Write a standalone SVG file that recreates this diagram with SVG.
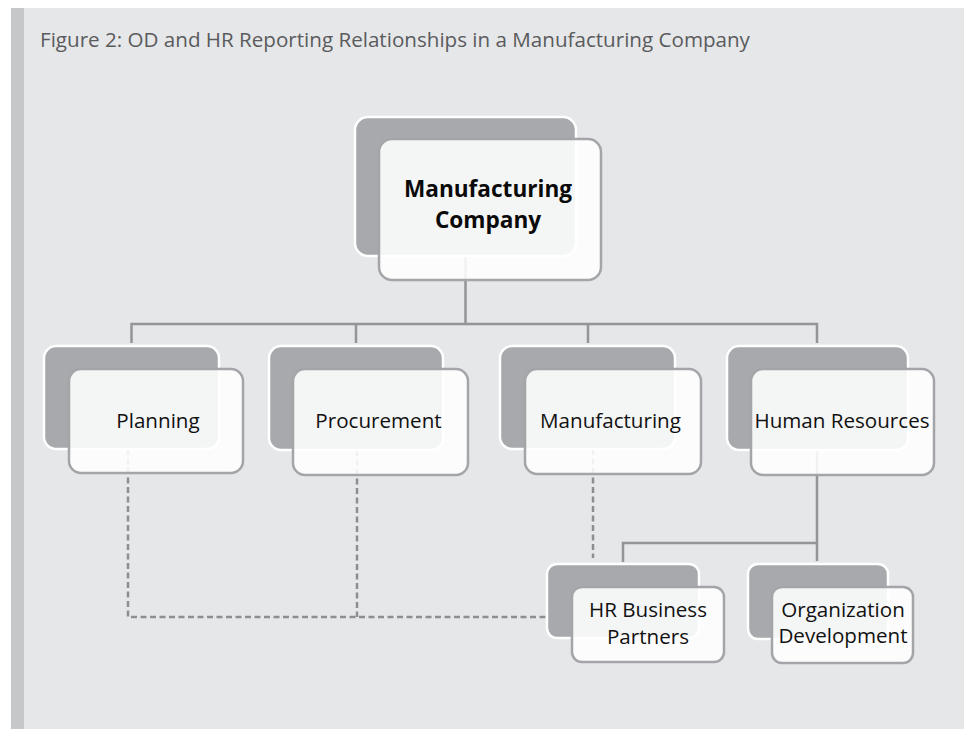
<svg xmlns="http://www.w3.org/2000/svg" width="964" height="729" viewBox="0 0 964 729">
<style>
.back{fill:#a7a9ac;stroke:#ffffff;stroke-width:2.5}
.front{fill:#ffffff;fill-opacity:0.88;stroke:#a3a5a8;stroke-width:2.5}
.solid{fill:none;stroke:#939598;stroke-width:2.5}
.dash{fill:none;stroke:#8c8e91;stroke-width:2.5;stroke-dasharray:6 3.5}
.lbl{font-family:"Open Sans","Noto Sans","DejaVu Sans",sans-serif;font-size:20.6px;fill:#111111;text-anchor:middle}
.big{font-family:"Open Sans","Noto Sans","DejaVu Sans",sans-serif;font-size:22.6px;font-weight:bold;fill:#0a0a0a;text-anchor:middle}
.title{font-family:"Open Sans","Noto Sans","DejaVu Sans",sans-serif;font-size:20.6px;fill:#5a5b5d}
</style>
<rect x="0" y="0" width="964" height="729" fill="#ffffff"/>
<rect x="11" y="8" width="953" height="721" fill="#e6e7e9"/>
<rect x="11" y="8" width="13" height="721" fill="#c6c7c9"/>
<text class="title" x="40" y="47">Figure 2: OD and HR Reporting Relationships in a Manufacturing Company</text>

<g id="connectors">
<path class="solid" d="M465.5 256 V324 M131.5 343 V324 H817 V343 M356 324 V343 M588 324 V343"/>
<path class="solid" d="M817 450 V561 M817 543 H623 V562"/>
<path class="dash" d="M128 449 V617 H547 M357 450 V617 M593 449 V558"/>
</g>

<g id="node-manufacturing-company">
<rect class="back" x="355" y="117" width="221" height="139" rx="13"/>
<rect class="front" x="379" y="139" width="222" height="141" rx="13"/>
<text class="big" x="488" y="197">Manufacturing</text>
<text class="big" x="488" y="228">Company</text>
</g>

<g id="node-planning">
<rect class="back" x="44" y="346" width="175" height="103" rx="12"/>
<rect class="front" x="69" y="369" width="174" height="104" rx="12"/>
<text class="lbl" x="158" y="428">Planning</text>
</g>

<g id="node-procurement">
<rect class="back" x="269" y="346" width="174" height="104" rx="12"/>
<rect class="front" x="293" y="369" width="175" height="106" rx="12"/>
<text class="lbl" x="378.5" y="428">Procurement</text>
</g>

<g id="node-manufacturing">
<rect class="back" x="500" y="346" width="175" height="103" rx="12"/>
<rect class="front" x="525" y="369" width="176" height="105" rx="12"/>
<text class="lbl" x="610.5" y="428">Manufacturing</text>
</g>

<g id="node-human-resources">
<rect class="back" x="727" y="346" width="181" height="104" rx="12"/>
<rect class="front" x="751" y="369" width="183" height="106" rx="12"/>
<text class="lbl" x="842" y="428">Human Resources</text>
</g>

<g id="node-hr-business-partners">
<rect class="back" x="547" y="564" width="152" height="74" rx="10"/>
<rect class="front" x="572" y="587" width="152" height="75" rx="10"/>
<text class="lbl" x="648" y="617">HR Business</text>
<text class="lbl" x="648" y="644">Partners</text>
</g>

<g id="node-organization-development">
<rect class="back" x="748" y="564" width="140" height="75" rx="10"/>
<rect class="front" x="772" y="587" width="141" height="76" rx="10"/>
<text class="lbl" x="843" y="617">Organization</text>
<text class="lbl" x="843" y="643">Development</text>
</g>
</svg>
